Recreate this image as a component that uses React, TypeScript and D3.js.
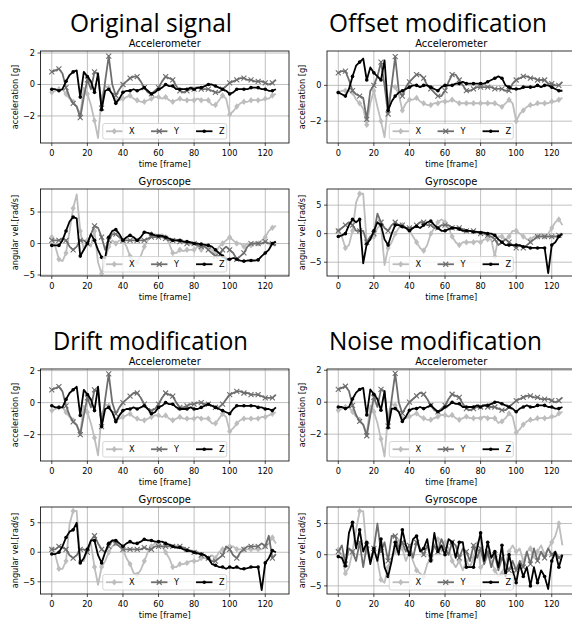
import React from 'react';
import * as d3 from 'd3';

// frames sampled every 2 steps (0..126)
const FRAMES = d3.range(0, 128, 2);
const X_TICKS = [0, 20, 40, 60, 80, 100, 120];
const X_DOMAIN = [-6.35, 133.35];

// ---- Original signal ----
const ORIG_ACC_X = [-0.5,-0.4,-0.3,-0.3,-0.6,-0.9,-1.1,-1.4,-1.9,-0.2,-0.6,-1.3,-2.3,-3.4,-0.8,-0.1,
  -0.2,-0.6,-1.0,-1.0,-0.9,-0.8,-0.7,-0.9,-1.0,-1.1,-1.1,-1.0,-0.9,-0.8,-0.8,-0.9,
  -0.8,-1.0,-1.1,-1.0,-0.9,-1.0,-1.0,-1.0,-1.0,-0.9,-1.0,-1.0,-1.0,-1.3,-1.3,-1.0,
  -0.7,-0.9,-1.9,-1.7,-1.4,-1.2,-1.1,-1.1,-1.0,-1.0,-1.0,-1.0,-0.9,-0.9,-0.7,-0.6];
const ORIG_ACC_Y = [0.8,0.9,1.0,0.7,-0.2,-0.8,-1.2,-1.4,-2.1,-0.8,0.3,-0.3,0.8,0.7,-1.5,0.2,
  1.8,0.0,-0.7,-0.3,0.0,0.2,0.4,0.5,0.5,0.2,-0.2,-0.5,-0.6,-0.4,-0.2,0.2,
  0.5,0.4,0.3,-0.1,-0.4,-0.5,-0.4,-0.3,-0.3,-0.2,-0.3,-0.3,-0.3,-0.4,-0.5,-0.5,
  -0.3,-0.1,0.1,0.2,0.3,0.4,0.4,0.3,0.3,0.2,0.2,0.2,0.1,0.0,0.1,0.3];
const ORIG_ACC_Z = [-0.3,-0.3,-0.4,-0.3,0.2,0.6,0.8,0.9,-0.8,0.8,0.5,0.2,-0.5,0.7,-1.6,-0.4,
  -0.3,-0.6,-1.2,-0.9,-0.5,-0.4,-0.4,-0.3,-0.4,-0.3,-0.2,-0.4,-0.6,-0.5,-0.3,-0.2,
  0.0,-0.1,-0.1,-0.3,-0.3,-0.3,-0.3,-0.2,-0.3,-0.2,-0.2,-0.1,0.0,0.0,-0.1,-0.2,
  -0.3,-0.4,-0.6,-0.5,-0.3,-0.3,-0.3,-0.3,-0.2,-0.2,-0.2,-0.3,-0.3,-0.4,-0.4,-0.3];
const ORIG_GYR_X = [1.0,-0.5,-2.5,-2.8,-1.5,2.0,5.6,7.8,2.0,-1.0,0.5,-0.5,2.0,-3.0,-4.8,-2.5,
  -0.5,0.5,0.0,0.5,0.5,-0.5,-2.0,-2.8,-3.0,-2.0,-0.5,0.5,1.5,1.5,1.2,1.5,
  1.0,0.0,-1.5,-1.5,-1.0,-1.2,-1.0,-1.0,-1.0,-0.5,-1.0,-0.5,-0.5,-1.0,-1.5,-0.5,
  0.0,0.5,1.0,0.5,0.0,0.0,-0.5,0.0,-0.3,0.0,0.0,0.5,1.0,2.0,2.5,2.8];
const ORIG_GYR_Y = [0.5,0.5,0.5,0.8,0.5,-0.5,-1.0,-0.5,0.5,0.5,0.0,1.5,2.8,2.5,1.0,-1.0,
  0.5,1.5,1.5,1.0,0.5,0.5,0.5,0.5,0.5,0.5,0.5,0.8,1.0,1.0,1.0,1.0,
  0.8,0.5,0.5,0.5,0.3,0.3,0.0,0.0,0.0,-0.3,-0.5,-0.5,-1.0,-1.5,-2.0,-2.0,
  -1.0,-0.5,-1.0,-1.5,-2.5,-2.0,-1.5,-0.5,0.0,0.0,0.0,0.0,0.3,0.0,0.0,-0.3];
const ORIG_GYR_Z = [-0.3,-0.3,-0.3,0.5,2.0,3.5,4.2,4.0,-2.0,-1.0,0.0,1.5,0.5,-1.0,-2.2,-2.3,
  1.0,2.0,2.2,1.5,0.5,1.0,1.3,1.0,0.5,1.0,1.8,1.7,1.5,1.3,1.2,1.2,
  1.0,0.8,0.5,0.5,0.5,0.3,0.3,0.2,0.0,0.0,-0.1,-0.2,-0.3,-0.5,-1.0,-1.5,
  -2.0,-2.5,-2.5,-2.3,-2.5,-2.7,-2.8,-2.7,-2.7,-2.7,-2.6,-2.0,-1.5,-1.0,0.0,0.3];

// ---- Offset modification ----
const OFFS_ACC_X = [-0.4,-0.3,-0.3,-0.3,-0.4,-0.8,-1.0,-1.3,-2.2,-1.0,-0.3,-1.2,-2.0,-2.9,-1.0,0.0,
  -0.1,-0.5,-1.4,-1.0,-0.8,-0.8,-0.7,-0.9,-1.0,-1.1,-1.1,-1.0,-1.0,-0.9,-0.9,-0.9,
  -0.8,-0.9,-1.0,-1.0,-1.0,-1.0,-1.0,-1.0,-1.0,-1.0,-1.0,-1.0,-1.0,-1.1,-1.2,-1.0,
  -0.8,-1.0,-2.0,-1.6,-1.4,-1.2,-1.1,-1.1,-1.0,-1.0,-1.0,-1.0,-0.9,-0.9,-0.8,-0.7];
const OFFS_ACC_Y = [0.7,0.8,0.8,0.3,-0.3,-0.5,-0.6,-0.7,-1.9,-0.3,0.0,0.5,1.3,0.0,-1.6,0.0,
  1.6,-0.3,-0.6,-0.1,0.2,0.4,0.6,0.6,0.4,0.0,-0.2,-0.4,-0.6,-0.6,-0.3,0.2,
  0.6,0.6,0.3,0.0,-0.3,-0.3,-0.2,-0.1,-0.1,-0.1,-0.1,-0.1,-0.2,-0.2,-0.2,-0.3,
  -0.3,0.1,0.3,0.4,0.5,0.5,0.4,0.4,0.3,0.3,0.3,0.1,0.1,0.0,0.0,0.2];
const OFFS_ACC_Z = [-0.4,-0.5,-0.6,-0.2,0.5,1.1,1.3,1.5,0.3,1.0,0.7,0.5,0.3,1.4,-1.4,-0.9,
  -0.6,-0.4,-0.3,-0.2,-0.1,0.0,0.0,-0.1,0.0,0.0,-0.1,-0.2,-0.3,-0.1,0.0,0.0,
  0.0,0.1,0.1,0.2,0.1,0.1,0.1,0.1,0.1,0.1,0.2,0.3,0.4,0.5,0.4,0.0,
  -0.1,-0.2,-0.2,-0.2,-0.1,-0.1,-0.1,-0.1,0.0,-0.1,0.0,0.0,-0.1,-0.2,-0.3,-0.3];
const OFFS_GYR_X = [0.5,-0.5,-2.5,-2.0,0.5,5.5,7.0,7.0,-1.5,-1.0,-0.5,1.0,1.5,-5.5,-2.5,-1.5,
  0.0,1.0,1.5,1.0,0.5,-0.5,-1.5,-2.5,-3.0,-2.0,0.0,1.0,2.0,2.5,2.0,1.0,
  -0.5,-1.5,-2.0,-1.5,-1.5,-1.5,-1.5,-1.3,-1.5,-1.0,-1.0,-1.0,-4.0,-0.5,-0.5,-1.0,
  -0.5,0.5,0.5,0.0,-0.5,-1.0,-1.0,-0.5,-0.5,0.0,-0.5,0.0,1.0,2.0,2.5,1.5];
const OFFS_GYR_Y = [0.5,1.0,1.5,2.0,1.5,0.5,0.5,0.5,-1.5,-0.5,0.0,3.5,2.0,1.0,0.5,1.5,
  2.0,1.5,1.5,1.0,1.0,1.0,1.5,2.0,2.0,1.5,1.5,1.0,1.0,1.5,1.5,1.5,
  1.0,1.0,1.0,0.8,0.5,0.5,0.5,0.3,0.0,0.0,-0.3,-0.5,-1.0,-2.0,-1.5,-1.0,
  -1.5,-2.0,-2.5,-2.0,-2.5,-2.0,-1.5,-1.0,-0.5,-0.5,-0.5,-0.5,-0.5,-0.5,-0.3,-0.3];
const OFFS_GYR_Z = [-0.5,-0.3,0.0,1.5,2.5,2.0,2.5,-5.2,-1.8,-1.0,0.5,2.0,1.5,-1.0,-2.0,0.0,
  1.5,1.5,1.2,1.0,0.5,1.0,1.3,1.0,1.5,2.0,2.2,1.5,1.0,0.5,0.5,0.8,
  1.0,1.0,0.8,0.5,0.5,0.5,0.3,0.3,0.2,0.2,0.0,0.0,-0.3,-1.0,-1.5,-2.0,
  -2.0,-2.0,-2.0,-2.0,-2.3,-2.3,-2.5,-2.5,-2.5,-2.5,-2.5,-6.9,-2.0,-1.5,-0.5,0.0];

// ---- Drift modification ----
const DRFT_ACC_X = [-0.5,-0.4,-0.3,-0.3,-0.6,-0.9,-1.1,-1.4,-1.9,-0.2,-0.6,-1.3,-2.2,-3.3,-0.8,-0.1,
  -0.2,-0.6,-1.1,-1.0,-0.9,-0.8,-0.7,-0.9,-1.0,-1.1,-1.1,-1.0,-0.9,-0.8,-0.8,-0.9,
  -0.8,-1.0,-1.1,-1.0,-0.9,-1.0,-1.0,-1.0,-1.0,-0.9,-1.0,-1.0,-1.0,-1.3,-1.3,-1.0,
  -0.7,-0.9,-1.8,-1.6,-1.3,-1.1,-1.0,-1.0,-1.0,-1.0,-1.0,-0.9,-0.9,-0.8,-0.7,-0.6];
const DRFT_ACC_Y = [0.8,0.9,1.0,0.7,-0.2,-0.8,-1.2,-1.4,-2.0,-0.8,0.3,-0.3,0.8,0.7,-1.5,0.2,
  1.8,0.0,-0.7,-0.3,0.0,0.2,0.4,0.6,0.6,0.3,-0.1,-0.4,-0.5,-0.4,-0.1,0.3,
  0.6,0.5,0.4,0.0,-0.3,-0.3,-0.2,-0.1,-0.1,0.0,0.0,-0.1,-0.1,-0.2,-0.3,-0.3,
  -0.1,0.2,0.5,0.6,0.7,0.7,0.6,0.6,0.5,0.5,0.5,0.4,0.3,0.3,0.3,0.5];
const DRFT_ACC_Z = [-0.2,-0.3,-0.3,-0.3,0.2,0.6,0.8,1.0,-0.8,0.8,0.5,0.2,-0.5,1.0,-1.5,-0.4,
  -0.3,-0.6,-1.2,-0.8,-0.5,-0.4,-0.4,-0.3,-0.4,-0.3,-0.2,-0.4,-0.7,-0.6,-0.3,-0.2,
  0.0,-0.1,-0.1,-0.3,-0.4,-0.4,-0.4,-0.3,-0.4,-0.4,-0.3,-0.2,-0.1,-0.2,-0.3,-0.4,
  -0.5,-0.6,-0.7,-0.4,-0.2,-0.2,-0.2,-0.2,-0.2,-0.2,-0.3,-0.3,-0.4,-0.4,-0.5,-0.3];
const DRFT_GYR_X = [0.5,-0.5,-2.8,-2.8,-1.5,4.8,7.0,7.0,-1.5,-1.5,0.5,1.5,-2.5,-5.5,-2.5,-1.5,
  0.0,1.0,1.5,1.0,0.5,-1.0,-2.0,-3.5,-3.8,-3.0,-1.5,0.0,1.0,1.5,1.5,1.0,
  0.0,-1.0,-2.5,-2.5,-2.0,-2.0,-1.8,-1.5,-1.5,-1.5,-1.0,-1.0,-1.0,-0.5,-1.0,0.0,
  0.5,0.5,1.0,1.0,0.5,0.5,0.5,0.5,0.5,0.5,0.5,0.5,1.0,1.5,2.5,1.5];
const DRFT_GYR_Y = [0.5,0.5,1.0,0.8,0.5,-0.5,-1.0,-0.5,0.5,0.5,0.0,2.0,2.8,1.5,0.5,0.0,
  1.0,2.0,1.5,1.0,0.5,0.5,0.5,0.5,0.5,0.5,0.8,0.5,0.5,1.0,1.0,1.0,
  1.0,1.0,1.0,1.0,1.0,0.8,0.5,0.3,0.0,0.0,-0.5,-0.5,-1.0,-1.5,-1.5,-1.0,
  -0.5,1.0,0.5,-0.5,-1.0,0.0,0.5,1.0,1.0,1.0,1.0,1.5,1.0,2.8,-1.0,-0.3];
const DRFT_GYR_Z = [-0.3,-0.3,0.0,1.0,2.5,3.5,3.8,5.0,-1.8,-1.0,0.5,2.0,2.0,-0.5,-1.8,0.0,
  1.5,2.0,2.0,1.5,1.0,1.5,1.8,1.5,1.5,1.8,2.2,2.0,2.0,1.8,1.8,1.8,
  1.5,1.3,1.0,0.8,0.8,0.5,0.3,0.2,0.0,-0.2,-0.3,-0.5,-1.0,-2.0,-2.2,-2.5,
  -2.5,-2.8,-2.5,-2.7,-2.5,-2.8,-2.8,-2.7,-2.5,-2.5,-2.5,-6.4,-1.8,-1.0,0.3,0.0];

// ---- Noise modification ----
const NOIS_ACC_X = [-0.5,-0.4,-0.3,-0.3,-0.6,-0.9,-1.1,-1.4,-2.0,-0.2,-0.6,-1.3,-2.3,-3.4,-0.8,-0.1,
  -0.2,-0.6,-1.0,-1.0,-0.9,-0.8,-0.7,-0.9,-1.0,-1.1,-1.1,-1.0,-0.9,-0.8,-0.8,-0.9,
  -0.8,-1.0,-1.1,-1.0,-0.9,-1.0,-1.0,-1.0,-1.0,-0.9,-1.0,-1.0,-1.0,-1.3,-1.2,-1.0,
  -0.7,-0.9,-1.9,-1.7,-1.4,-1.2,-1.1,-1.1,-1.0,-1.0,-1.0,-1.0,-0.9,-0.9,-0.7,-0.6];
const NOIS_ACC_Y = [0.8,0.9,1.0,0.7,-0.2,-0.8,-1.2,-1.4,-2.1,-0.8,0.3,-0.3,0.8,0.7,-1.5,0.2,
  1.8,0.0,-0.7,-0.3,0.0,0.2,0.4,0.6,0.5,0.2,-0.2,-0.5,-0.6,-0.4,-0.2,0.2,
  0.5,0.4,0.3,-0.1,-0.4,-0.5,-0.4,-0.3,-0.3,-0.2,-0.3,-0.3,-0.3,-0.4,-0.5,-0.5,
  -0.3,-0.1,0.1,0.2,0.3,0.4,0.4,0.3,0.3,0.2,0.2,0.2,0.1,0.0,0.1,0.3];
const NOIS_ACC_Z = [-0.3,-0.3,-0.4,-0.3,0.2,0.6,0.8,0.9,-0.8,0.8,0.5,0.2,-0.5,0.7,-1.6,-0.4,
  -0.4,-0.6,-1.2,-0.9,-0.5,-0.4,-0.4,-0.3,-0.4,-0.3,-0.2,-0.4,-0.6,-0.5,-0.3,-0.2,
  0.0,-0.1,-0.1,-0.3,-0.3,-0.3,-0.3,-0.2,-0.3,-0.2,-0.2,-0.1,0.0,0.0,-0.1,-0.2,
  -0.3,-0.4,-0.6,-0.4,-0.3,-0.2,-0.3,-0.3,-0.2,-0.2,-0.2,-0.3,-0.3,-0.4,-0.4,-0.3];
const NOIS_GYR_X = [0.8,0.0,-3.0,-2.0,0.5,4.0,7.0,7.0,0.5,-1.0,1.0,-1.0,-4.0,-4.5,-2.0,-0.5,
  0.5,2.5,1.0,-1.0,0.5,-1.0,-2.5,-3.0,-3.5,-1.5,-0.5,1.5,2.5,0.5,2.0,1.0,
  -1.0,-2.0,-1.0,-2.5,-1.0,-2.0,-0.5,2.0,-2.0,-1.5,0.0,-1.0,-2.5,-3.5,-3.0,-1.5,
  0.5,1.5,0.5,1.0,-1.0,0.5,1.0,-0.5,0.5,1.5,0.0,1.0,2.0,3.0,5.0,1.5];
const NOIS_GYR_Y = [0.5,1.5,-1.5,1.0,0.5,-1.0,2.0,-2.0,1.5,-1.0,1.0,5.0,0.5,2.0,-1.0,3.0,
  3.0,1.0,2.0,0.5,1.5,-0.5,2.0,1.0,0.0,1.5,-0.5,1.5,0.5,2.5,1.0,0.0,
  2.0,1.5,-0.5,1.0,0.5,-1.0,1.5,-0.5,1.0,-1.5,0.5,-2.0,0.0,-2.5,-0.5,-1.5,
  -2.5,-1.0,-2.5,-1.0,-2.0,0.5,-1.5,1.0,-1.0,0.5,-0.5,1.0,0.0,0.5,-0.5,0.0];
const NOIS_GYR_Z = [-0.3,-0.5,-1.8,3.5,5.2,1.0,4.0,0.5,2.0,-1.5,1.0,-1.0,2.5,-2.0,-3.5,-1.0,
  2.0,0.0,4.0,1.5,0.0,2.5,3.0,0.5,1.0,2.5,-1.0,3.5,0.5,1.5,0.0,2.5,
  2.0,-0.5,2.0,2.0,-2.0,-2.0,-2.0,1.0,3.5,-1.0,2.0,-0.5,0.5,-2.0,1.5,-3.5,
  0.0,-2.5,-4.5,-1.5,-3.5,-2.0,-5.0,-2.0,-4.5,-2.5,-3.5,-5.5,-1.0,0.5,-2.0,0.0];

const COLORS = ['#bdbdbd', '#6e6e6e', '#000000'];
const LABELS = ['X', 'Y', 'Z'];
const FONT = 'DejaVu Sans, sans-serif';

const GROUPS = [
  { title: 'Original signal', col: 0, row: 0, titleX: 151, titleW: 162,
    acc: [ORIG_ACC_X, ORIG_ACC_Y, ORIG_ACC_Z], accY: [-3.72, 2.13],
    gyr: [ORIG_GYR_X, ORIG_GYR_Y, ORIG_GYR_Z], gyrY: [-5.16, 8.66] },
  { title: 'Offset modification', col: 1, row: 0, titleX: 438, titleW: 218,
    acc: [OFFS_ACC_X, OFFS_ACC_Y, OFFS_ACC_Z], accY: [-3.22, 1.92],
    gyr: [OFFS_GYR_X, OFFS_GYR_Y, OFFS_GYR_Z], gyrY: [-7.42, 7.83] },
  { title: 'Drift modification', col: 0, row: 1, titleX: 150.5, titleW: 195,
    acc: [DRFT_ACC_X, DRFT_ACC_Y, DRFT_ACC_Z], accY: [-3.65, 2.1],
    gyr: [DRFT_GYR_X, DRFT_GYR_Y, DRFT_GYR_Z], gyrY: [-7.07, 7.67] },
  { title: 'Noise modification', col: 1, row: 1, titleX: 435.5, titleW: 213,
    acc: [NOIS_ACC_X, NOIS_ACC_Y, NOIS_ACC_Z], accY: [-3.68, 2.08],
    gyr: [NOIS_GYR_X, NOIS_GYR_Y, NOIS_GYR_Z], gyrY: [-6.3, 7.65] },
];

function Marker({ kind, cx, cy, color }) {
  if (kind === 0) {
    const r = 3.2;
    return <path d={`M${cx},${cy - r}L${cx + r * 0.8},${cy}L${cx},${cy + r}L${cx - r * 0.8},${cy}Z`} fill={color} />;
  }
  if (kind === 1) {
    const r = 2.5;
    return <path d={`M${cx - r},${cy - r}L${cx + r},${cy + r}M${cx - r},${cy + r}L${cx + r},${cy - r}`} stroke={color} strokeWidth={1.1} fill="none" />;
  }
  return <circle cx={cx} cy={cy} r={1.8} fill={color} />;
}

function Panel({ id, left, top, width, height, yDomain, yTicks, title, ylabel, series }) {
  const x = d3.scaleLinear().domain(X_DOMAIN).range([left, left + width]);
  const y = d3.scaleLinear().domain(yDomain).range([top + height, top]);
  const line = d3.line<number>().x((d, i) => x(FRAMES[i])).y(d => y(d));
  const bottom = top + height;
  const ticksY = yTicks.filter(t => t >= yDomain[0] && t <= yDomain[1]);
  const cx = left + width / 2;
  const lgW = 124, lgH = 15.5;
  const lgX = cx - lgW / 2, lgY = bottom - 4 - lgH;
  return (
    <g>
      <defs>
        <clipPath id={id}><rect x={left} y={top} width={width} height={height} /></clipPath>
      </defs>
      <g stroke="#b0b0b0" strokeWidth={0.8}>
        {X_TICKS.map(t => <line key={'gx' + t} x1={x(t)} x2={x(t)} y1={top} y2={bottom} />)}
        {ticksY.map(t => <line key={'gy' + t} x1={left} x2={left + width} y1={y(t)} y2={y(t)} />)}
      </g>
      <g clipPath={`url(#${id})`}>
        {series.map((s, k) => (
          <g key={k}>
            <path d={line(s)} fill="none" stroke={COLORS[k]} strokeWidth={1.8} strokeLinejoin="round" />
            {s.map((v, i) => (FRAMES[i] % 4 === 0
              ? <Marker key={i} kind={k} cx={x(FRAMES[i])} cy={y(v)} color={COLORS[k]} />
              : null))}
          </g>
        ))}
      </g>
      <rect x={left} y={top} width={width} height={height} fill="none" stroke="#000" strokeWidth={0.8} />
      <g stroke="#000" strokeWidth={0.7}>
        {X_TICKS.map(t => <line key={'tx' + t} x1={x(t)} x2={x(t)} y1={bottom} y2={bottom + 3} />)}
        {ticksY.map(t => <line key={'ty' + t} x1={left - 3} x2={left} y1={y(t)} y2={y(t)} />)}
      </g>
      <g fontFamily={FONT} fontSize={8.2} fill="#000">
        {X_TICKS.map(t => <text key={'lx' + t} x={x(t)} y={bottom + 12.5} textAnchor="middle">{t}</text>)}
        {ticksY.map(t => <text key={'ly' + t} x={left - 5.5} y={y(t) + 3} textAnchor="end">{t < 0 ? '\u2212' + Math.abs(t) : t}</text>)}
        <text x={cx} y={bottom + 23.5} textAnchor="middle">time [frame]</text>
        <text transform={`translate(${left - 22.5},${top + height / 2}) rotate(-90)`} textAnchor="middle">{ylabel}</text>
      </g>
      <text x={cx} y={top - 4.5} textAnchor="middle" fontFamily={FONT} fontSize={9.9}>{title}</text>
      <rect x={lgX} y={lgY} width={lgW} height={lgH} rx={2} fill="#fff" fillOpacity={0.8} stroke="#cccccc" strokeWidth={0.8} />
      {LABELS.map((lab, k) => {
        const hx = lgX + 3.3 + k * 45;
        const hy = lgY + lgH / 2;
        return (
          <g key={lab}>
            <line x1={hx} x2={hx + 16.4} y1={hy} y2={hy} stroke={COLORS[k]} strokeWidth={1.8} />
            <Marker kind={k} cx={hx + 8.2} cy={hy} color={COLORS[k]} />
            <text x={hx + 23} y={hy + 3} fontFamily={FONT} fontSize={8.2}>{lab}</text>
          </g>
        );
      })}
    </g>
  );
}

export default function App() {
  return (
    <svg width={572} height={622} style={{ position: 'absolute', left: 0, top: 0, background: '#fff' }}>
      {GROUPS.map((g, gi) => {
        const ox = g.col * 286.5;
        const oy = g.row * 318;
        return (
          <g key={gi}>
            <text x={g.titleX} y={32 + oy} textAnchor="middle" fontFamily="Open Sans, sans-serif" fontSize={25}
              textLength={g.titleW} lengthAdjust="spacingAndGlyphs">{g.title}</text>
            <Panel id={`acc${gi}`} left={40.5 + ox} top={51 + oy} width={248.5} height={92}
              yDomain={g.accY} yTicks={[-2, 0, 2]} title="Accelerometer" ylabel="acceleration [g]" series={g.acc} />
            <Panel id={`gyr${gi}`} left={40.5 + ox} top={189 + oy} width={248.5} height={87}
              yDomain={g.gyrY} yTicks={[-5, 0, 5]} title="Gyroscope" ylabel="angular vel.[rad/s]" series={g.gyr} />
          </g>
        );
      })}
    </svg>
  );
}
